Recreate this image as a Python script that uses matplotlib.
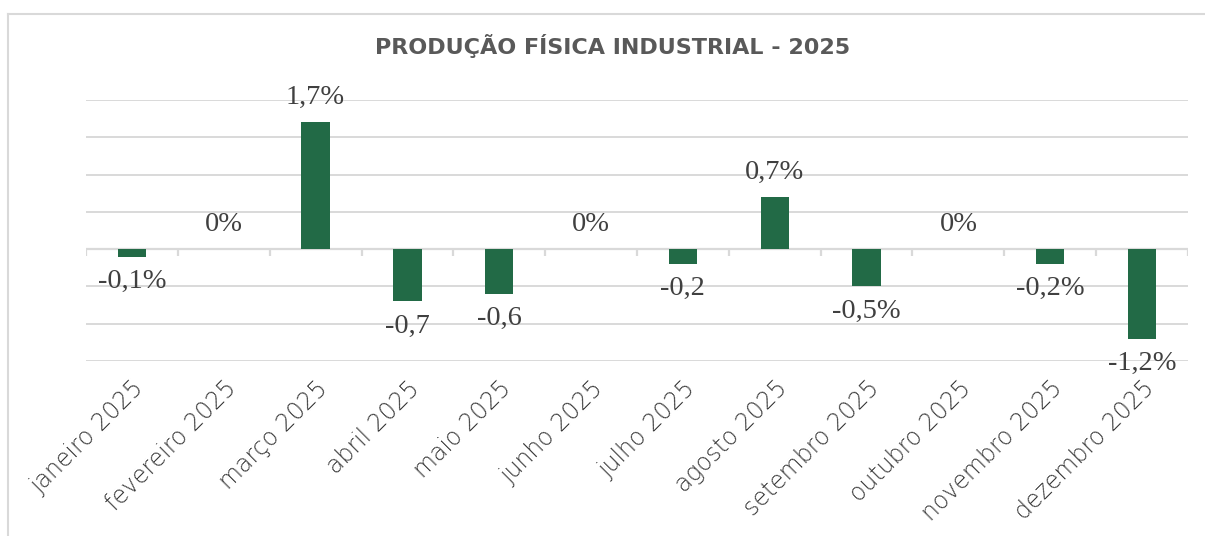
import numpy as np
import matplotlib
matplotlib.use("Agg")
import matplotlib.pyplot as plt
from matplotlib.lines import Line2D

meses = ["janeiro 2025", "fevereiro 2025", "março 2025", "abril 2025",
         "maio 2025", "junho 2025", "julho 2025", "agosto 2025",
         "setembro 2025", "outubro 2025", "novembro 2025", "dezembro 2025"]
valores = [-0.1, 0.0, 1.7, -0.7, -0.6, 0.0, -0.2, 0.7, -0.5, 0.0, -0.2, -1.2]
rotulos = ["-0,1%", "0%", "1,7%", "-0,7", "-0,6", "0%", "-0,2", "0,7%",
           "-0,5%", "0%", "-0,2%", "-1,2%"]

verde = "#226A46"
cinza_grade = "#D9D9D9"
cinza_txt = "#595959"

fig = plt.figure(figsize=(12.05, 5.36), dpi=100)
W, H = 1205, 536

# moldura do grafico: so topo e lado esquerdo aparecem na imagem
top_y = 1 - 13.5 / H
fig.lines.append(Line2D([8 / W, 1.0], [top_y, top_y], transform=fig.transFigure,
                        color=cinza_grade, lw=1.5))
fig.lines.append(Line2D([8 / W, 8 / W], [0, top_y], transform=fig.transFigure,
                        color=cinza_grade, lw=1.5))

ax = fig.add_axes([86 / W, 1 - 361 / H, (1188 - 86) / W, (361 - 100) / H])
x = np.arange(len(meses))

ax.set_ylim(-1.5, 2.0)
ax.set_xlim(-0.5, len(meses) - 0.5)
ax.set_yticks(np.arange(-1.5, 2.01, 0.5))
ax.yaxis.grid(True, color=cinza_grade, lw=1.4)
ax.set_axisbelow(True)
ax.tick_params(axis="y", left=False, labelleft=False)
for s in ax.spines.values():
    s.set_visible(False)

ax.bar(x, valores, width=0.31, color=verde, zorder=3)

# eixo de categorias no zero, com marcas entre categorias
ax.axhline(0, color=cinza_grade, lw=1.6, zorder=2)
ax.vlines(np.arange(-0.5, len(meses)), -0.09, 0, color=cinza_grade, lw=1.6, zorder=2)

for xi, v, r in zip(x, valores, rotulos):
    off = 0.33 if v >= 0 else -0.33
    ax.text(xi, v + off, r, ha="center", va="center", fontsize=20.5,
            family="Liberation Serif", color="#404040", zorder=4)

ax.set_xticks(x)
ax.set_xticklabels(meses, rotation=45, ha="right", rotation_mode="anchor",
                   fontsize=17, color="#3A3A3A", family="DejaVu Sans",
                   fontweight="light")
ax.tick_params(axis="x", length=0, pad=11)

fig.text(613 / W, 1 - 46 / H, "PRODUÇÃO FÍSICA INDUSTRIAL - 2025",
         ha="center", va="center", fontsize=16, fontweight="bold", color=cinza_txt)

fig.savefig("out.png", dpi=100, facecolor="white")
